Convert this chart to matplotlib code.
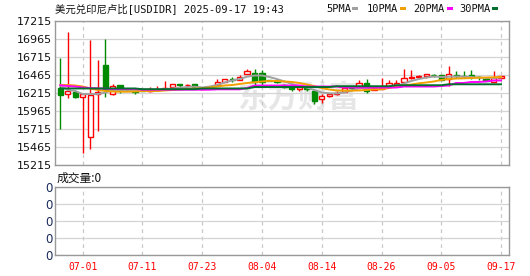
# USDIDR daily K-line chart (eastmoney style) - recreate

import matplotlib
matplotlib.use('Agg')
import matplotlib.pyplot as plt
from matplotlib.patches import Rectangle
import pandas as pd

# ============================================
# DATA
# ============================================
dates = pd.bdate_range('2025-06-26', '2025-09-17')   # 60 trading days

opens = [16289, 16198, 16233, 16155, 15600, 16201, 16604, 16197, 16326, 16262,
         16247, 16245, 16243, 16250, 16267, 16294, 16336, 16322, 16336, 16271,
         16300, 16326, 16362, 16405, 16396, 16479, 16497, 16490, 16390, 16385,
         16326, 16312, 16267, 16312, 16247, 16128, 16173, 16208, 16233, 16294,
         16298, 16358, 16257, 16275, 16317, 16326, 16372, 16430, 16440, 16455,
         16470, 16465, 16409, 16460, 16458, 16465, 16440, 16409, 16372, 16420]
highs = [16697, 17058, 16253, 16205, 16951, 16673, 16965, 16336, 16330, 16272,
         16250, 16250, 16302, 16316, 16382, 16340, 16340, 16340, 16340, 16285,
         16310, 16405, 16410, 16440, 16465, 16548, 16548, 16540, 16395, 16396,
         16340, 16326, 16326, 16340, 16257, 16198, 16201, 16236, 16280, 16314,
         16396, 16405, 16290, 16423, 16396, 16396, 16548, 16534, 16465, 16479,
         16479, 16465, 16590, 16520, 16521, 16534, 16450, 16410, 16521, 16451]
lows = [15715, 16150, 16150, 15386, 15433, 15687, 16164, 16187, 16211, 16255,
        16201, 16240, 16225, 16243, 16267, 16294, 16284, 16294, 16290, 16268,
        16295, 16326, 16362, 16364, 16396, 16479, 16302, 16320, 16382, 16350,
        16280, 16243, 16243, 16243, 16060, 16076, 16160, 16190, 16225, 16256,
        16284, 16215, 16250, 16270, 16303, 16300, 16350, 16410, 16430, 16420,
        16440, 16396, 16312, 16420, 16420, 16410, 16395, 16378, 16362, 16420]
closes = [16187, 16243, 16164, 16201, 16187, 16225, 16257, 16316, 16270, 16258,
          16225, 16242, 16257, 16262, 16280, 16336, 16322, 16328, 16294, 16280,
          16305, 16372, 16405, 16390, 16442, 16525, 16372, 16365, 16388, 16363,
          16294, 16271, 16303, 16267, 16108, 16169, 16197, 16218, 16280, 16280,
          16354, 16247, 16280, 16290, 16350, 16350, 16419, 16437, 16448, 16479,
          16462, 16396, 16479, 16452, 16450, 16441, 16432, 16382, 16419, 16451]

# moving averages
ma5 = [16316, 16257, 16243, 16201, 16201, 16201, 16219, 16257, 16257, 16257,
       16250, 16250, 16257, 16257, 16264, 16278, 16289, 16298, 16303, 16291,
       16305, 16326, 16361, 16389, 16409, 16441, 16458, 16458, 16437, 16409,
       16375, 16340, 16312, 16291, 16257, 16222, 16211, 16208, 16222, 16250,
       16278, 16284, 16291, 16294, 16298, 16312, 16347, 16382, 16409, 16430,
       16444, 16437, 16441, 16444, 16441, 16437, 16430, 16423, 16423, 16430]
ma10 = [16326, 16326, 16319, 16305, 16278, 16257, 16243, 16236, 16233, 16233,
        16236, 16243, 16243, 16243, 16250, 16257, 16264, 16271, 16275, 16280,
        16291, 16305, 16319, 16326, 16340, 16354, 16364, 16375, 16382, 16382,
        16375, 16368, 16354, 16333, 16312, 16284, 16264, 16250, 16247, 16247,
        16250, 16257, 16264, 16266, 16284, 16305, 16319, 16333, 16350, 16361,
        16375, 16396, 16409, 16416, 16419, 16423, 16427, 16430, 16433, 16437]
ma20 = [16322, 16312, 16305, 16291, 16284, 16280, 16275, 16271, 16271, 16271,
        16271, 16261, 16261, 16261, 16261, 16261, 16261, 16261, 16261, 16261,
        16261, 16266, 16266, 16266, 16266, 16284, 16319, 16319, 16319, 16319,
        16319, 16319, 16319, 16305, 16305, 16305, 16305, 16305, 16291, 16291,
        16291, 16291, 16291, 16291, 16291, 16291, 16305, 16305, 16305, 16305,
        16305, 16312, 16319, 16354, 16354, 16368, 16368, 16375, 16389, 16389]
ma30 = [16278, 16278, 16278, 16278, 16278, 16278, 16278, 16278, 16278, 16278,
        16278, 16268, 16268, 16268, 16268, 16268, 16268, 16268, 16268, 16278,
        16278, 16278, 16278, 16278, 16278, 16278, 16298, 16298, 16298, 16298,
        16298, 16298, 16298, 16298, 16298, 16298, 16298, 16309, 16309, 16309,
        16309, 16309, 16309, 16309, 16309, 16323, 16323, 16323, 16323, 16323,
        16323, 16323, 16336, 16336, 16336, 16336, 16336, 16336, 16336, 16336]

y_ticks = [15215, 15465, 15715, 15965, 16215, 16465, 16715, 16965, 17215]
tick_idx = [3, 11, 19, 27, 35, 43, 51, 59]
tick_labels = [dates[i].strftime('%m-%d') for i in tick_idx]

# ============================================
# COLOURS
# ============================================
RED = '#ff0000'
GREEN = '#008a00'
MA_COLORS = ['#a0a0a0', '#f0a000', '#ff00ff', '#006f2e']
GRID = '#d4d4d4'
BORDER = '#999999'

# ============================================
# FIGURE + AXES
# ============================================
fig = plt.figure(figsize=(5.3, 2.76), dpi=100)
ax = fig.add_axes([0.1038, 0.4022, 0.8566, 0.5217])
axv = fig.add_axes([0.1038, 0.075, 0.8566, 0.2475])

xlim = (-0.71, 60.07)

# --- candles ---
w = 0.7
for i in range(len(opens)):
    o, h, l, c = opens[i], highs[i], lows[i], closes[i]
    up = c >= o
    col = RED if up else GREEN
    ax.vlines(i, l, h, color=col, lw=1, zorder=2)
    bottom = min(o, c)
    height = max(abs(c - o), 3)
    face = 'white' if up else GREEN
    ax.add_patch(Rectangle((i - w / 2, bottom), w, height, facecolor=face,
                           edgecolor=col, lw=1, zorder=2.5))

# --- moving averages ---
x = list(range(len(opens)))
for ma, colr in zip([ma5, ma10, ma20, ma30], MA_COLORS):
    ax.plot(x, ma, color=colr, lw=1.4, zorder=3)

# watermark
ax.text(0.535, 0.47, '东方财富', transform=ax.transAxes, ha='center', va='center',
        fontsize=22, fontweight='bold', color='#e6e6e6', zorder=0,
        family=['Noto Sans CJK SC'])

ax.set_xlim(*xlim)
ax.set_ylim(15215, 17215)
ax.set_yticks(y_ticks)
ax.set_yticklabels([str(v) for v in y_ticks], fontsize=8, color='#111111')
ax.set_xticks(tick_idx)
ax.set_xticklabels([])
ax.tick_params(length=0, pad=2)
ax.grid(axis='y', color=GRID, lw=0.9, zorder=0)
ax.grid(axis='x', color='#c8c8c8', lw=0.9, linestyle=(0, (3, 3)), zorder=0)
for s in ax.spines.values():
    s.set_color(BORDER)
    s.set_linewidth(1)

# --- volume panel (all zero) ---
axv.set_xlim(*xlim)
axv.set_ylim(0, 4)
axv.set_yticks([0, 1, 2, 3, 4])
axv.set_yticklabels(['0'] * 5, fontsize=8.5, color='#1a2a5a')
axv.set_xticks(tick_idx)
axv.set_xticklabels(tick_labels, fontsize=7, color=RED, family='DejaVu Sans Mono')
axv.tick_params(length=0, pad=2)
axv.tick_params(axis='x', pad=5)
axv.grid(axis='y', color=GRID, lw=0.9)
axv.grid(axis='x', color='#c8c8c8', lw=0.9, linestyle=(0, (3, 3)))
for s in axv.spines.values():
    s.set_color(BORDER)
    s.set_linewidth(1)

# ============================================
# TEXTS / LEGEND
# ============================================
fig.text(0.1038, 0.967, '美元兑印尼卢比[USDIDR] 2025-09-17 19:43', fontsize=7.5,
         va='center', ha='left', color='#111111',
         family=['DejaVu Sans Mono', 'Noto Sans CJK SC'])

legend_names = ['5PMA', '10PMA', '20PMA', '30PMA']
legend_x = [326, 367, 413, 459]
swatch_x = [352, 400, 447, 492]
for name, lx, sx, colr in zip(legend_names, legend_x, swatch_x, MA_COLORS):
    fig.text(lx / 530, 0.967, name, fontsize=7.5, va='center', ha='left',
             color='#111111', family='DejaVu Sans Mono')
    fig.add_artist(Rectangle((sx / 530, 1 - 10 / 276), 6 / 530, 3 / 276,
                             transform=fig.transFigure, facecolor=colr,
                             edgecolor='none'))

fig.text(57 / 530, 1 - 178 / 276, '成交量:0', fontsize=8.5, va='center', ha='left',
         color='#111111', family=['Noto Sans CJK SC', 'DejaVu Sans'])

plt.savefig('out.png', dpi=100)
